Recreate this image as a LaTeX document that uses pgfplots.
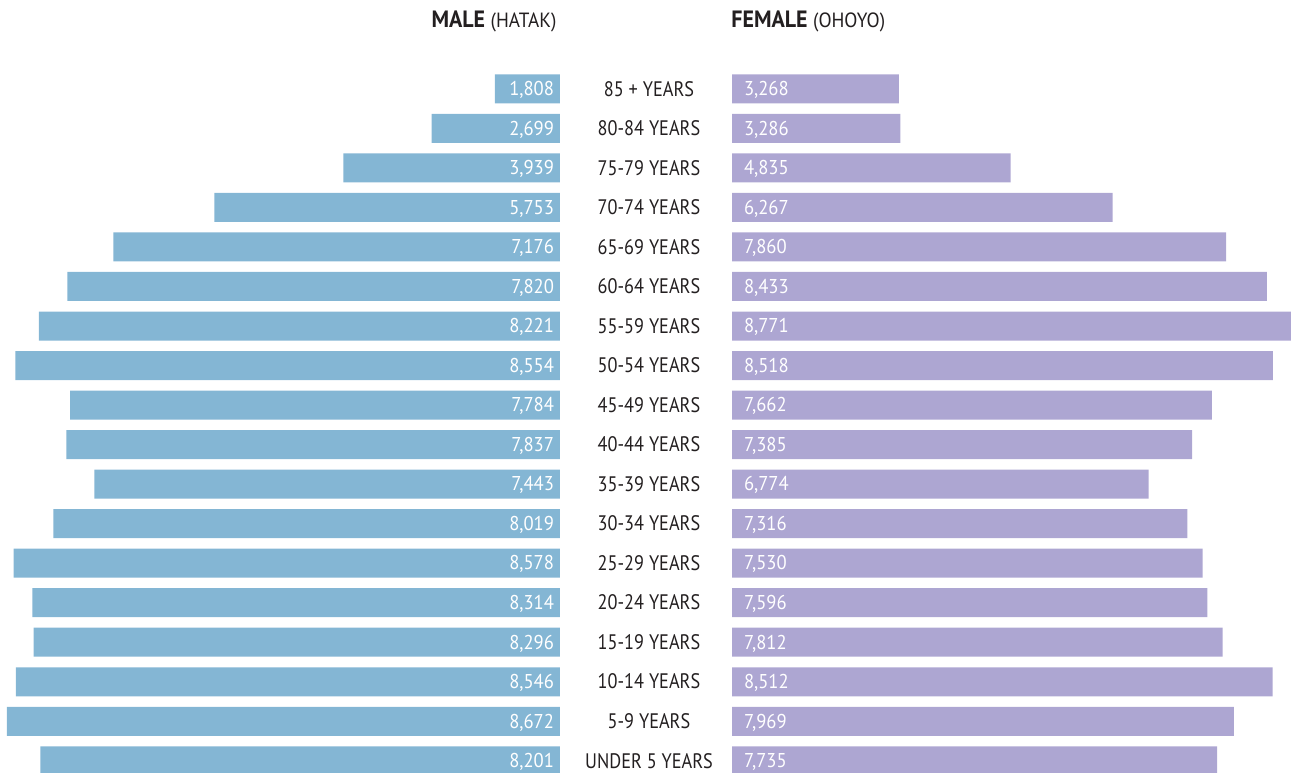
\documentclass[border=0pt]{standalone}
\usepackage{fontspec}
\setmainfont{PT Sans}
\newfontfamily\condfont[FakeStretch=0.87]{PT Sans}
\newfontfamily\numfont[FakeStretch=0.93]{PT Sans}
\usepackage{pgfplots}
\usepackage{pgfplotstable}
\pgfplotsset{compat=1.18}
\definecolor{maleblue}{HTML}{84B6D4}
\definecolor{femalepurple}{HTML}{ADA6D2}
\definecolor{txt}{HTML}{231F20}
\pgfplotstableread{
idx male female
0 8201 7735
1 8672 7969
2 8546 8512
3 8296 7812
4 8314 7596
5 8578 7530
6 8019 7316
7 7443 6774
8 7837 7385
9 7784 7662
10 8554 8518
11 8221 8771
12 7820 8433
13 7176 7860
14 5753 6267
15 3939 4835
16 2699 3286
17 1808 3268
}\datatable
\begin{document}
\begin{tikzpicture}
\useasboundingbox (0,0) rectangle (647bp,386.5bp);
\pgfplotsset{pyr/.style={
  scale only axis, height=355.77bp, ymin=-0.5, ymax=17.5,
  axis line style={draw=none}, xtick=\empty, major tick length=0pt,
  clip=true,
  /pgf/number format/assume math mode=true,
  /pgf/number format/1000 sep={,},
  /pgf/number format/fixed,
  /pgf/number format/precision=0
}}
\begin{axis}[pyr, at={(0bp,-3.8bp)}, anchor=south west, width=280bp,
  xmin=893, xmax=8769, x dir=reverse, ytick=\empty]
\addplot[xbar, bar width=14.5bp, bar shift=0pt, fill=maleblue, draw=none]
  table[x=male, y=idx]{\datatable};
\addplot[only marks, mark=none, nodes near coords, point meta=\thisrow{male},
  every node near coord/.style={anchor=base east, inner sep=0pt, xshift=-2.8bp, yshift=-3.4bp,
  text=white, font=\numfont\fontsize{10bp}{11bp}\selectfont}]
  table[x expr=893, y=idx]{\datatable};
\end{axis}
\begin{axis}[pyr, at={(366bp,-3.8bp)}, anchor=south west, width=281bp,
  xmin=924, xmax=8814,
  ytick={0,...,17},
  yticklabels={UNDER 5 YEARS,5-9 YEARS,10-14 YEARS,15-19 YEARS,20-24 YEARS,25-29 YEARS,30-34 YEARS,35-39 YEARS,40-44 YEARS,45-49 YEARS,50-54 YEARS,55-59 YEARS,60-64 YEARS,65-69 YEARS,70-74 YEARS,75-79 YEARS,80-84 YEARS,85 + YEARS},
  yticklabel style={anchor=base, xshift=-41.5bp, yshift=-3.6bp, inner sep=0pt, text=txt,
    font=\condfont\fontsize{10.5bp}{11bp}\selectfont}]
\addplot[xbar, bar width=14.5bp, bar shift=0pt, fill=femalepurple, draw=none]
  table[x=female, y=idx]{\datatable};
\addplot[only marks, mark=none, nodes near coords, point meta=\thisrow{female},
  every node near coord/.style={anchor=base west, inner sep=0pt, xshift=5.8bp, yshift=-3.4bp,
  text=white, font=\numfont\fontsize{10bp}{11bp}\selectfont}]
  table[x expr=924, y=idx]{\datatable};
\end{axis}
\node[anchor=base east, inner sep=0pt, text=txt] at (278.4bp,372.85bp)
  {\numfont\fontsize{11.8bp}{12bp}\selectfont\bfseries MALE \fontsize{10.3bp}{11bp}\selectfont\mdseries (HATAK)};
\node[anchor=base west, inner sep=0pt, text=txt] at (365.5bp,372.85bp)
  {\numfont\fontsize{11.8bp}{12bp}\selectfont\bfseries FEMALE \fontsize{10.3bp}{11bp}\selectfont\mdseries (OHOYO)};
\end{tikzpicture}
\end{document}
